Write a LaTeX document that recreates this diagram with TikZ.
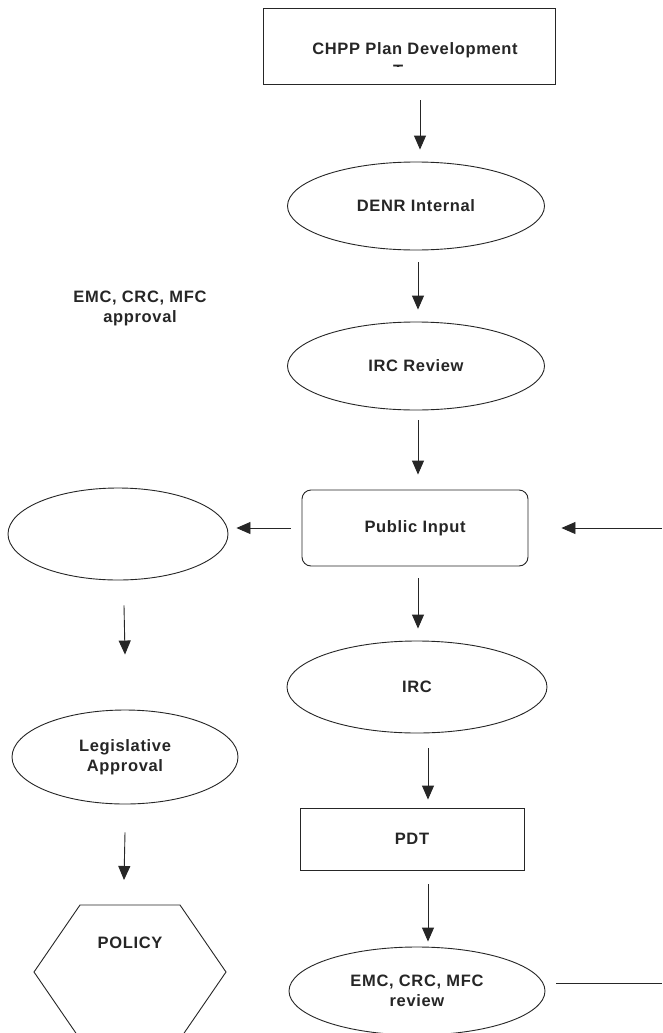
\documentclass[tikz,border=0pt]{standalone}
\usepackage{fontspec}
\setmainfont{Liberation Sans}[LetterSpace=4]
\usetikzlibrary{arrows.meta,shapes.geometric}
\begin{document}
\begin{tikzpicture}[x=1pt,y=-1pt,
  lw/.style={line width=0.9pt, draw=black!85},
  txt/.style={font=\bfseries\fontsize{16.5}{20}\selectfont, text=black!85, align=center},
  ell/.style={lw, ellipse, inner sep=0pt, txt},
  boxn/.style={lw, rectangle, inner sep=0pt, txt},
  arr/.style={lw, -{Triangle[length=14pt,width=12pt]}},
]
\useasboundingbox (0,0) rectangle (662,1033);
\fill[white] (0,0) rectangle (662,1033);

% top box
\node[boxn, minimum width=292pt, minimum height=76pt] (top) at (409,46) {};
\node[txt, anchor=base] (toptxt) at (415,55) {CHPP Plan Development};
\begin{scope}
  \clip (270,60) rectangle (550,66.5);
  \node[txt, anchor=base] (team) at (415,77) {Team};
\end{scope}

\node[ell, minimum width=257pt, minimum height=88pt] (denr) at (416,206) {DENR Internal};
\node[ell, minimum width=257pt, minimum height=88pt] (ircr) at (416,366) {IRC Review};
\node[boxn, rounded corners=9pt, minimum width=226pt, minimum height=76pt] (pub) at (415,528) {Public Input};
\node[ell, minimum width=220pt, minimum height=92pt] (lell) at (118,534) {};
\node[ell, minimum width=260pt, minimum height=92pt] (irc) at (417,687) {IRC};
\node[boxn, minimum width=224pt, minimum height=62pt] (pdt) at (412,839) {PDT};
\node[ell, minimum width=256pt, minimum height=88pt] (emc) at (417,991) {EMC, CRC, MFC\\review};
\node[ell, minimum width=226pt, minimum height=94pt] (leg) at (125,757) {Legislative\\Approval};
\node[txt] (appr) at (140,308) {EMC, CRC, MFC\\approval};

% hexagon
\coordinate (h1) at (80,905);
\coordinate (h2) at (180,905);
\coordinate (h3) at (226,972);
\coordinate (h4) at (180,1039);
\coordinate (h5) at (80,1039);
\coordinate (h6) at (34,972);
\draw[lw] (h1) -- (h2) -- (h3) -- (h4) -- (h5) -- (h6) -- cycle;
\node[txt] (pol) at (130,943) {POLICY};

\coordinate (rin) at (662,528);
\coordinate (rout) at (662,983);

% arrows
\draw[arr] ([xshift=11pt,yshift=-16pt]top.south) -- ([xshift=4pt,yshift=12pt]denr.north);
\draw[arr] ([xshift=2pt,yshift=-12pt]denr.south) -- ([xshift=2pt,yshift=12pt]ircr.north);
\draw[arr] ([xshift=2pt,yshift=-10pt]ircr.south) -- ([xshift=3pt,yshift=15pt]pub.north);
\draw[arr] ([xshift=3pt,yshift=-12pt]pub.south) -- ([xshift=1pt,yshift=12pt]irc.north);
\draw[arr] ([xshift=11pt,yshift=-15pt]irc.south) -- ([xshift=16pt,yshift=8pt]pdt.north);
\draw[arr] ([xshift=16pt,yshift=-14pt]pdt.south) -- ([xshift=11pt,yshift=5pt]emc.north);
\draw[arr] ([xshift=-11pt]pub.west) -- ([xshift=8pt,yshift=6pt]lell.east);
\draw[arr] (rin) -- ([xshift=33pt]pub.east);
\draw[lw] ([xshift=11pt,yshift=8pt]emc.east) -- (rout);
\draw[arr] ([xshift=6pt,yshift=-25pt]lell.south) -- ([yshift=55pt]leg.north);
\draw[arr] ([yshift=-28pt]leg.south) -- ([xshift=-6pt,yshift=25pt]h1 -| pol);
\end{tikzpicture}
\end{document}
